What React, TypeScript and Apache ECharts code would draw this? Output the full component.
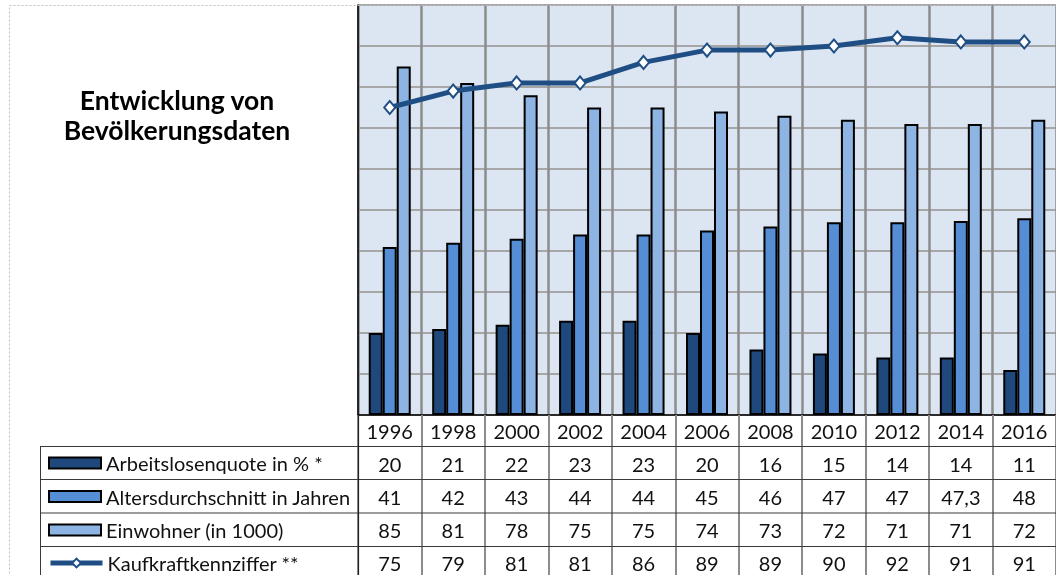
import React, { useEffect, useRef } from "react";
import * as echarts from "echarts";

const years = ["1996", "1998", "2000", "2002", "2004", "2006", "2008", "2010", "2012", "2014", "2016"];
const arbeitslosenquote = [20, 21, 22, 23, 23, 20, 16, 15, 14, 14, 11];
const altersdurchschnitt = [41, 42, 43, 44, 44, 45, 46, 47, 47, 47.3, 48];
const einwohner = [85, 81, 78, 75, 75, 74, 73, 72, 71, 71, 72];
const kaufkraft = [75, 79, 81, 81, 86, 89, 89, 90, 92, 91, 91];

const seriesNames = [
  "Arbeitslosenquote in % *",
  "Altersdurchschnitt in Jahren",
  "Einwohner (in 1000)",
  "Kaufkraftkennziffer **",
];
const titleLines = ["Entwicklung von", "Bevölkerungsdaten"];

const FONT = "Lato, 'Noto Sans', sans-serif";
const fmt = (v: number) => String(v).replace(".", ",");

export default function App() {
  const ref = useRef<HTMLDivElement>(null);
  useEffect(() => {
    if (!ref.current) return;
    const chart = echarts.init(ref.current, undefined, { renderer: "svg" });
    const rowCenters = [463, 496.5, 530, 563];
    const barColors = ["#1F497D", "#558ED5", "#8DB4E2"];
    const barData = [arbeitslosenquote, altersdurchschnitt, einwohner];
    const lineColor = "#1F4E85";
    const legendLH = 22;

    const legends = seriesNames.map((n, i) => ({
      data: [i < 3 ? { name: n, icon: "rect" } : { name: n }],
      orient: "horizontal",
      left: 48,
      top: rowCenters[i] - legendLH / 2,
      padding: 0,
      itemWidth: 52,
      itemHeight: 11,
      itemGap: 5,
      selectedMode: false,
      lineStyle: i === 3 ? { width: 5, color: lineColor } : undefined,
      textStyle: { fontSize: 20, lineHeight: legendLH, fontFamily: FONT, color: "#111" },
    }));

    const hLines = [446.5, 479.5, 513, 546.5].map((y) => ({
      type: "line",
      silent: true,
      z: 50,
      shape: { x1: 40, y1: y, x2: 1056, y2: y },
      style: { stroke: "#3a3a3a", lineWidth: 1 },
    }));

    chart.setOption({
      animation: false,
      title: {
        text: titleLines.join("\n"),
        left: 177,
        top: 85,
        padding: 0,
        textAlign: "center",
        textStyle: { fontSize: 26.5, fontWeight: "bold", fontFamily: FONT, color: "#000", lineHeight: 30 },
      },
      legend: legends,
      grid: {
        left: 358,
        top: 5,
        width: 698,
        height: 410,
        show: true,
        containLabel: false,
        outerBoundsMode: "none",
        backgroundColor: "#DCE6F2",
        borderWidth: 0,
      },
      xAxis: {
        type: "category",
        data: years,
        boundaryGap: true,
        axisLine: { show: true, lineStyle: { color: "#000", width: 1.5 } },
        axisTick: { show: true, interval: 0, length: 160, lineStyle: { color: "#8C8C8C", width: 2 } },
        splitLine: { show: true, interval: 0, lineStyle: { color: "#8C8C8C", width: 2.5 } },
        axisLabel: {
          interval: 0,
          margin: -1,
          fontSize: 20,
          fontFamily: FONT,
          color: "#111",
          lineHeight: 33,
          formatter: (v: string, i: number) =>
            [v, fmt(arbeitslosenquote[i]), fmt(altersdurchschnitt[i]), fmt(einwohner[i]), fmt(kaufkraft[i])].join("\n"),
        },
      },
      yAxis: {
        type: "value",
        min: 0,
        max: 100,
        interval: 10,
        axisLabel: { show: false },
        axisTick: { show: false },
        axisLine: { show: true, lineStyle: { color: "#000", width: 1.5 } },
        splitLine: { show: true, lineStyle: { color: "#A6A6A6", width: 2 } },
      },
      series: [
        ...barData.map((d, i) => ({
          name: seriesNames[i],
          type: "bar",
          data: d,
          barWidth: 14,
          barGap: "0%",
          itemStyle: { color: barColors[i], borderColor: "#000", borderWidth: 2 },
          z: 3,
        })),
        {
          name: seriesNames[3],
          type: "line",
          data: kaufkraft,
          symbol: "diamond",
          symbolSize: [11, 13],
          showAllSymbol: true,
          lineStyle: { color: lineColor, width: 5 },
          itemStyle: { color: "#fff", borderColor: lineColor, borderWidth: 2 },
          z: 5,
        },
      ],
      graphic: [
        {
          type: "rect",
          silent: true,
          z: 100,
          shape: { x: 9.5, y: 5.5, width: 1100, height: 600 },
          style: { fill: "none", stroke: "#BFBFBF", lineWidth: 1, lineDash: [2, 2] },
        },
        ...hLines,
        {
          type: "line",
          silent: true,
          z: 50,
          shape: { x1: 40.5, y1: 446.5, x2: 40.5, y2: 580 },
          style: { stroke: "#3a3a3a", lineWidth: 1 },
        },
        {
          type: "line",
          silent: true,
          z: 50,
          shape: { x1: 358.5, y1: 415, x2: 358.5, y2: 580 },
          style: { stroke: "#222", lineWidth: 1.2 },
        },
      ],
    });
    return () => chart.dispose();
  }, []);
  return <div ref={ref} style={{ position: "fixed", left: 0, top: 0, width: 1056, height: 575 }} />;
}
